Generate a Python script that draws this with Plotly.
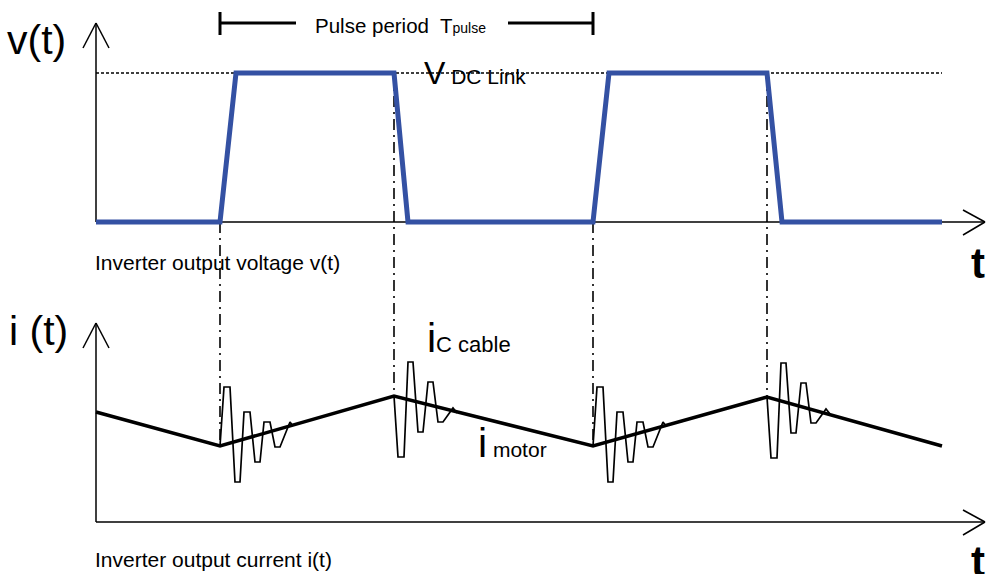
import plotly.graph_objects as go

W, H = 987, 574

# ---------------- data ----------------
# time axis in diagram units (same scale as the horizontal axis)
t_volt = [96, 220, 236, 394, 408, 593, 609, 767, 782, 942]
v_pu = [0, 0, 1, 1, 0, 0, 1, 1, 0, 0]          # inverter output voltage (p.u. of V_DC link)

t_cur = [96, 220, 394, 593, 767, 942]
i_motor = [110, 76, 126, 76, 125, 76]            # motor current (arbitrary units)

switch_times = [220, 394, 593, 767]              # switching instants
switch_kind = ["valley", "peak", "valley", "peak"]

# cable charging current ringing, relative to motor current at the switching instant
ring_dt_valley = [0, 4, 10, 15, 20, 24, 30, 35, 40, 44, 50, 55, 60, 70, 73]
ring_di_valley = [0, 59, 59, -36, -36, 34, 34, -16, -16, 24, 24, -1, -1, 24, 20]
ring_dt_peak = [0, 4, 10, 14, 19, 24, 29, 34, 39, 44, 49, 59, 63]
ring_di_peak = [0, -61, -61, 34, 34, -36, -36, 14, 14, -26, -26, -12, -17]

pulse_start, pulse_end = 220, 593

# ---------------- axis mappings ----------------
V_ZERO_PX, V_ONE_PX = 222, 73       # pixel rows of 0 and 1 p.u.
I_ZERO_PX = 522                      # pixel row of zero current (bottom time axis)
px_per_pu = V_ZERO_PX - V_ONE_PX
v_lo = (V_ZERO_PX - H) / px_per_pu
v_hi = V_ZERO_PX / px_per_pu


def v_px(v):
    return V_ZERO_PX - v * px_per_pu


def i_px(i):
    return I_ZERO_PX - i


FONT = "Liberation Sans, Arial, sans-serif"
BLUE = "#3451a3"

fig = go.Figure()

# voltage waveform
fig.add_trace(go.Scatter(x=t_volt, y=v_pu, yaxis="y2", mode="lines",
                         line=dict(color=BLUE, width=5), hoverinfo="skip"))

# ringing currents
i_at = dict(zip(t_cur, i_motor))
for ts, kind in zip(switch_times, switch_kind):
    dts, dis = (ring_dt_valley, ring_di_valley) if kind == "valley" else (ring_dt_peak, ring_di_peak)
    base = i_at[ts]
    fig.add_trace(go.Scatter(x=[ts + d for d in dts], y=[base + d for d in dis], yaxis="y3",
                             mode="lines", line=dict(color="black", width=1.7),
                             hoverinfo="skip"))

# motor current
fig.add_trace(go.Scatter(x=t_cur, y=i_motor, yaxis="y3", mode="lines",
                         line=dict(color="black", width=3.5), hoverinfo="skip"))

shapes = []


def seg(x0, y0, x1, y1, width=1.5, dash="solid", color="black"):
    shapes.append(dict(type="line", xref="x", yref="y", x0=x0, y0=y0, x1=x1, y1=y1,
                       line=dict(color=color, width=width, dash=dash), layer="below"))


# axes with open arrow heads
for base_px in (V_ZERO_PX, I_ZERO_PX):
    top = base_px - 199
    seg(96, base_px, 96, top)
    seg(96, top, 83, top + 25)
    seg(96, top, 109, top + 25)
    seg(96, base_px, 985, base_px)
    seg(985, base_px, 963, base_px - 12)
    seg(985, base_px, 963, base_px + 13)

# DC link dotted level
seg(96, v_px(1), 942, v_px(1), width=1.5, dash="3px,2px")

# dash-dot projection lines from the voltage edges down to the current
for ts, kind in zip(switch_times, switch_kind):
    vtop = v_px(1) if kind == "peak" else v_px(0)
    seg(ts, vtop, ts, i_px(i_at[ts]), width=1.6, dash="11px,5px,2px,5px")

# pulse period bar
seg(pulse_start, 23, 296, 23, width=3)
seg(508, 23, pulse_end, 23, width=3)
seg(pulse_start, 12, pulse_start, 35, width=3)
seg(pulse_end, 12, pulse_end, 35, width=3)

ann = []


def text(x, y, s, size, xanchor="left", yanchor="middle", bold=False):
    ann.append(dict(x=x, y=y, xref="x", yref="y", text=("<b>%s</b>" % s) if bold else s,
                    showarrow=False, xanchor=xanchor, yanchor=yanchor,
                    font=dict(family=FONT, size=size, color="black"), borderpad=0))


text(6, 40, "v(t)", 41)
text(8, 331, "i (t)", 41)
text(970, 263, "t", 42, bold=True)
text(970, 561, "t", 42, bold=True)
text(94, 262, "Inverter output voltage v(t)", 21)
text(94, 559, "Inverter output current i(t)", 21)
text(314, 25, "Pulse period  T<span style='font-size:14px'>pulse</span>", 20.5)
text(423, 73, "V<span style='font-size:21px'> DC Link</span>", 32)
text(426, 338, "i<span style='font-size:22px'>C cable</span>", 41)
text(477, 443, "i<span style='font-size:21px'> motor</span>", 41)

fig.update_layout(
    width=W, height=H, margin=dict(l=0, r=0, t=0, b=0),
    paper_bgcolor="white", plot_bgcolor="white", showlegend=False,
    xaxis=dict(range=[0, W], visible=False, fixedrange=True),
    yaxis=dict(range=[H, 0], visible=False, fixedrange=True),
    yaxis2=dict(range=[v_lo, v_hi], overlaying="y", visible=False, fixedrange=True),
    yaxis3=dict(range=[I_ZERO_PX - H, I_ZERO_PX], overlaying="y", visible=False, fixedrange=True),
    shapes=shapes, annotations=ann,
)

fig.write_html("out.html", config={"displayModeBar": False},
               post_script="document.body.style.margin='0';document.body.style.overflow='hidden';")
